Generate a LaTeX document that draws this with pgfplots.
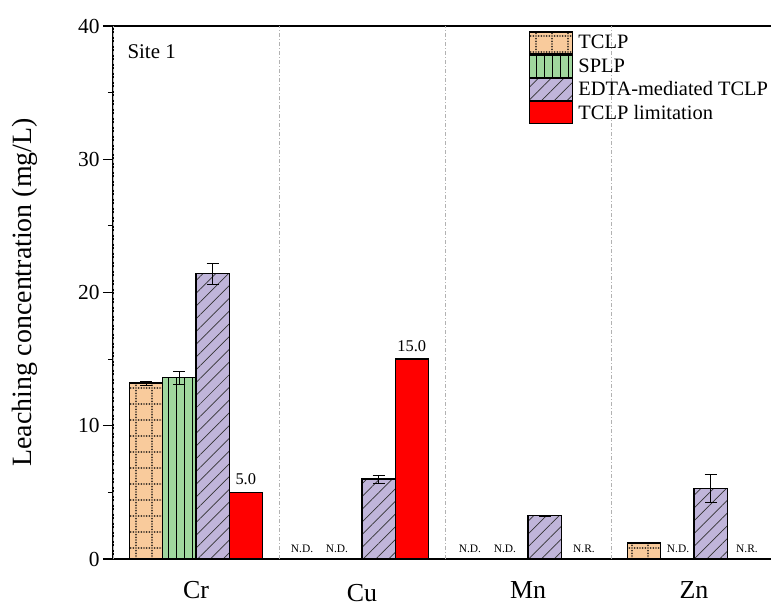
\documentclass[border=0pt]{standalone}
\usepackage{fontspec}
\setmainfont{Liberation Serif}
\usepackage{pgfplots}
\pgfplotsset{compat=1.18}
\usetikzlibrary{patterns,patterns.meta}

\definecolor{peach}{HTML}{F9CB9C}
\definecolor{lgreen}{HTML}{A0D79E}
\definecolor{lavender}{HTML}{C0B5DA}
\definecolor{dotcol}{HTML}{3A3028}

\pgfdeclarepattern{
  name=dotgrid,
  type=uncolored,
  bottom left={\pgfpoint{-1bp}{-1bp}},
  top right={\pgfpoint{17bp}{17bp}},
  tile size={\pgfpoint{16bp}{16bp}},
  code={
    \pgfsetlinewidth{1.9bp}
    \pgfsetroundcap
    \pgfsetdash{{0bp}{2.6667bp}}{0bp}
    \pgfpathmoveto{\pgfpoint{0bp}{8bp}}\pgfpathlineto{\pgfpoint{16bp}{8bp}}
    \pgfpathmoveto{\pgfpoint{8bp}{0bp}}\pgfpathlineto{\pgfpoint{8bp}{16bp}}
    \pgfusepath{stroke}
  }
}

\begin{document}
\begin{tikzpicture}
\begin{axis}[
  at={(0,0)}, anchor=south west,
  scale only axis, width=664bp, height=533bp,
  xmin=-0.5, xmax=3.5, ymin=0, ymax=40,
  ybar=0pt, bar width=0.2,
  legend image code/.code={\draw[#1] (0bp,-11bp) rectangle (43bp,11bp);},
  axis line style={line width=1.5bp},
  xtick={0,1,2,3},
  xticklabels={Cr,\raisebox{-3bp}[\height][0pt]{Cu},Mn,Zn},
  x tick style={draw=none},
  xticklabel style={font=\fontsize{26}{26}\selectfont, anchor=base, inner sep=0pt, yshift=-29bp},
  extra x ticks={-0.5,0.5,1.5,2.5,3.5},
  extra x tick labels={},
  extra x tick style={grid=major, major tick length=10bp, tick style={black, line width=1.2bp},
     major grid style={draw=black!30, line width=0.6bp, dash pattern=on 4bp off 2bp on 1bp off 2bp}},
  xtick pos=bottom, ytick pos=left,
  tick align=outside,
  ytick={0,10,20,30,40},
  minor y tick num=1,
  major tick length=10bp, minor tick length=5bp,
  y tick style={black, line width=1.2bp},
  yticklabel style={font=\fontsize{21.5}{21.5}\selectfont},
  /pgf/number format/assume math mode=true,
  ylabel={Leaching concentration (mg/L)},
  ylabel style={font=\fontsize{28}{28}\selectfont, at={(axis description cs:-0.1325,0.5)}, anchor=center},
  legend style={draw=none, fill=none, at={(axis description cs:0.6265,0.9906)}, anchor=north west,
     inner sep=0pt, row sep=0pt, column sep=5bp, font=\fontsize{20.5}{20.5}\selectfont,
     nodes={inner sep=0pt, anchor=west}},
  legend cell align=left,
  error bars/error bar style={black, line width=0.8bp},
  error bars/error mark options={black, mark size=6bp, line width=0.8bp, rotate=90},
]
\addplot[fill=peach, draw=black, line width=1.3bp, postaction={pattern=dotgrid, pattern color=dotcol},
  error bars/.cd, y dir=both, y explicit]
  coordinates {(0,13.2) +- (0,0.15) (3,1.2) +- (0,0.05)};
\addlegendentry{TCLP}
\addplot[fill=lgreen, draw=black, line width=1.3bp, postaction={pattern={Lines[angle=90,distance=8bp,line width=0.8bp]}, pattern color=black},
  error bars/.cd, y dir=both, y explicit]
  coordinates {(0,13.6) +- (0,0.5)};
\addlegendentry{SPLP}
\addplot[fill=lavender, draw=black, line width=1.3bp, postaction={pattern={Lines[angle=45,distance=9bp,line width=0.7bp]}, pattern color=black!80},
  error bars/.cd, y dir=both, y explicit]
  coordinates {(0,21.4) +- (0,0.8) (1,6.0) +- (0,0.3) (2,3.25) +- (0,0.05) (3,5.3) +- (0,1.05)};
\addlegendentry{EDTA-mediated TCLP}
\addplot[fill=red, draw=black, line width=1.3bp]
  coordinates {(0,5.0) (1,15.0)};
\addlegendentry{TCLP limitation}

\node[anchor=west, font=\fontsize{21}{21}\selectfont] at (axis description cs:0.0166,0.951) {Site 1};
\begin{scope}[every node/.style={font=\fontsize{16.5}{16.5}\selectfont, anchor=base}]
\node at (axis cs:0.3,5.0) [yshift=8bp] {5.0};
\node at (axis cs:1.3,15.0) [yshift=8bp] {15.0};
\end{scope}
\begin{scope}[every node/.style={font=\fontsize{11.5}{11.5}\selectfont, anchor=base}]
\node at (axis cs:0.6386,0) [yshift=7bp] {N.D.};
\node at (axis cs:0.849,0) [yshift=7bp] {N.D.};
\node at (axis cs:1.65,0) [yshift=7bp] {N.D.};
\node at (axis cs:1.861,0) [yshift=7bp] {N.D.};
\node at (axis cs:2.337,0) [yshift=7bp] {N.R.};
\node at (axis cs:2.904,0) [yshift=7bp] {N.D.};
\node at (axis cs:3.319,0) [yshift=7bp] {N.R.};
\end{scope}
\end{axis}
\pgfresetboundingbox
\path[use as bounding box] (-113bp,-45bp) rectangle (658bp,559bp);
\end{tikzpicture}
\end{document}
